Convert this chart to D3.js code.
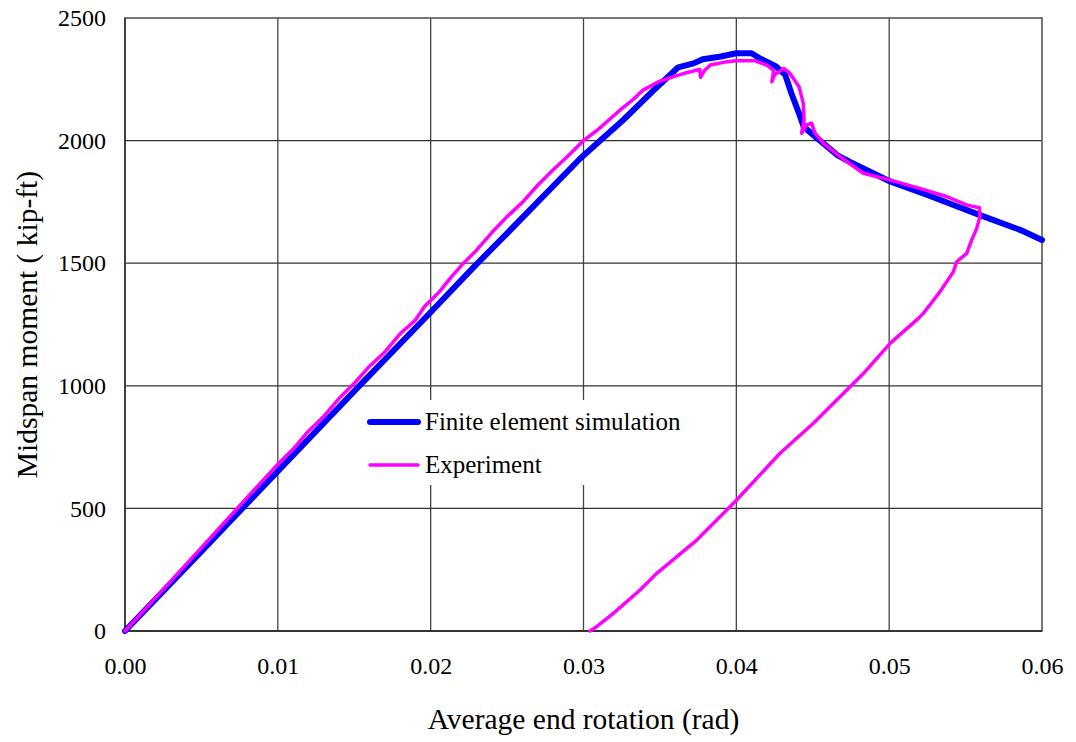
<!DOCTYPE html>
<html>
<head>
<meta charset="utf-8">
<script src="https://cdn.jsdelivr.net/npm/d3@7"></script>
<style>
  html, body { margin: 0; padding: 0; background: #fff; }
  svg { display: block; font-family: "Liberation Serif", "Times New Roman", serif; }
</style>
</head>
<body>
<svg id="chart" width="1076" height="742"></svg>
<script>
// Finite element simulation: [end rotation (rad), midspan moment (kip-ft)]
const feRotation = [0, 0.005, 0.010, 0.015, 0.020, 0.0228, 0.025, 0.0298, 0.0326, 0.0345, 0.0362, 0.0372,
  0.0378, 0.0389, 0.0400, 0.0410, 0.04155, 0.0426, 0.0432, 0.0436, 0.0441, 0.0444, 0.0453, 0.0466,
  0.0474, 0.0501, 0.0525, 0.0559, 0.0586, 0.0600];
const feMoment = [0, 325, 652, 978, 1300, 1483, 1622, 1928, 2084, 2200, 2299, 2315,
  2332, 2342, 2356, 2356, 2335, 2302, 2268, 2193, 2111, 2057, 2009, 1941,
  1914, 1832, 1778, 1697, 1635, 1595];

// Test record: loading, local drops near peak, softening and unloading
const expRotation = [0, 0.002, 0.004, 0.006, 0.008, 0.010, 0.011, 0.012, 0.013, 0.014, 0.015, 0.016,
  0.017, 0.018, 0.019, 0.0196, 0.0205, 0.0213, 0.0221, 0.0230, 0.0240, 0.025, 0.026, 0.027, 0.028,
  0.029, 0.030, 0.031, 0.0324, 0.0332, 0.0339, 0.0349, 0.0359, 0.0368, 0.0376, 0.03766, 0.0379, 0.0383,
  0.0394, 0.0400, 0.0412, 0.0420, 0.04245, 0.04232, 0.0425, 0.0431, 0.0435, 0.0441, 0.04438,
  0.04443, 0.04427, 0.0446, 0.04493, 0.04515, 0.0457, 0.0468, 0.0483, 0.0501, 0.0520, 0.0538,
  0.0551, 0.0559, 0.05594, 0.05573, 0.0554, 0.05507, 0.05442, 0.0542, 0.05333, 0.05224,
  0.05191, 0.05006, 0.04831, 0.04744, 0.04504, 0.04286, 0.03991, 0.03741, 0.03479, 0.0337,
  0.03195, 0.03086, 0.03043];
const expMoment = [0, 135, 272, 408, 545, 680, 742, 815, 875, 948, 1010, 1080,
  1138, 1212, 1268, 1323, 1378, 1440, 1497, 1553, 1625, 1690, 1748, 1818, 1880,
  1938, 2000, 2048, 2125, 2165, 2206, 2240, 2261, 2278, 2290, 2258, 2285, 2308,
  2322, 2326, 2326, 2308, 2285, 2240, 2268, 2294, 2275, 2220, 2152,
  2084, 2030, 2064, 2071, 2030, 1989, 1934, 1867, 1839, 1805, 1771,
  1737, 1726, 1690, 1642, 1595, 1540, 1506, 1465, 1384, 1296,
  1275, 1173, 1050, 996, 847, 725, 527, 371, 235, 167,
  72, 18, 0];

const xTicks = [0, 0.01, 0.02, 0.03, 0.04, 0.05, 0.06];
const yTicks = [0, 500, 1000, 1500, 2000, 2500];

const seriesNames = ["Finite element simulation", "Experiment"];

const svg = d3.select("#chart");
const plot = { left: 125, right: 1042, top: 18, bottom: 631 };

const x = d3.scaleLinear().domain([0, 0.06]).range([plot.left, plot.right]);
const y = d3.scaleLinear().domain([0, 2500]).range([plot.bottom, plot.top]);

// Grid lines
const grid = svg.append("g");
grid.selectAll("line.v").data(xTicks.slice(1, -1)).join("line")
  .attr("x1", d => x(d)).attr("x2", d => x(d))
  .attr("y1", plot.top).attr("y2", plot.bottom)
  .attr("stroke", "#444").attr("stroke-width", 1.3);
grid.selectAll("line.h").data(yTicks.slice(1, -1)).join("line")
  .attr("x1", plot.left).attr("x2", plot.right)
  .attr("y1", d => y(d)).attr("y2", d => y(d))
  .attr("stroke", "#333").attr("stroke-width", 1.3);

// Plot frame
svg.append("rect")
  .attr("x", plot.left).attr("y", plot.top)
  .attr("width", plot.right - plot.left).attr("height", plot.bottom - plot.top)
  .attr("fill", "none").attr("stroke", "#555").attr("stroke-width", 1.6);
svg.append("line")
  .attr("x1", plot.left).attr("x2", plot.right)
  .attr("y1", plot.bottom).attr("y2", plot.bottom)
  .attr("stroke", "#333").attr("stroke-width", 2);
svg.append("line")
  .attr("x1", plot.left).attr("x2", plot.left)
  .attr("y1", plot.top).attr("y2", plot.bottom)
  .attr("stroke", "#333").attr("stroke-width", 1.6);

// Axes (labels only, no tick marks)
const xAxis = d3.axisBottom(x).tickValues(xTicks).tickFormat(d3.format(".2f")).tickSize(0).tickPadding(26);
const yAxis = d3.axisLeft(y).tickValues(yTicks).tickFormat(d3.format("d")).tickSize(0).tickPadding(19);

const gx = svg.append("g").attr("transform", `translate(0,${plot.bottom})`).call(xAxis);
const gy = svg.append("g").attr("transform", `translate(${plot.left},0)`).call(yAxis);
[gx, gy].forEach(g => {
  g.select(".domain").remove();
  g.selectAll("text").attr("font-family", "Liberation Serif, Times New Roman, serif")
    .attr("font-size", 24).attr("fill", "#000");
});

// Axis titles
svg.append("text")
  .attr("x", (plot.left + plot.right) / 2).attr("y", 729)
  .attr("text-anchor", "middle").attr("font-size", 29.5).attr("fill", "#000")
  .text("Average end rotation (rad)");
svg.append("text")
  .attr("transform", `translate(37,${(plot.top + plot.bottom) / 2}) rotate(-90)`)
  .attr("text-anchor", "middle").attr("font-size", 29.5).attr("fill", "#000")
  .text("Midspan moment ( kip-ft)");

// Curves
const line = d3.line().x(d => x(d[0])).y(d => y(d[1]));
const feData = feRotation.map((r, i) => [r, feMoment[i]]);
const expData = expRotation.map((r, i) => [r, expMoment[i]]);

svg.append("path").datum(feData).attr("d", line)
  .attr("fill", "none").attr("stroke", "#0000ff").attr("stroke-width", 6)
  .attr("stroke-linejoin", "round").attr("stroke-linecap", "round");
svg.append("path").datum(expData).attr("d", line)
  .attr("fill", "none").attr("stroke", "#ff00ff").attr("stroke-width", 3.5)
  .attr("stroke-linejoin", "round").attr("stroke-linecap", "round");

// Legend
const legend = svg.append("g");
legend.append("rect").attr("x", 362).attr("y", 400).attr("width", 330).attr("height", 85).attr("fill", "#fff");
const legendItems = [
  { name: seriesNames[0], color: "#0000ff", width: 6, y: 422 },
  { name: seriesNames[1], color: "#ff00ff", width: 3.5, y: 465 }
];
legendItems.forEach(it => {
  legend.append("line").attr("x1", 370).attr("x2", 418).attr("y1", it.y).attr("y2", it.y)
    .attr("stroke", it.color).attr("stroke-width", it.width).attr("stroke-linecap", "round");
  legend.append("text").attr("x", 425).attr("y", it.y + 8)
    .attr("font-size", 25).attr("fill", "#000").text(it.name);
});
</script>
</body>
</html>
